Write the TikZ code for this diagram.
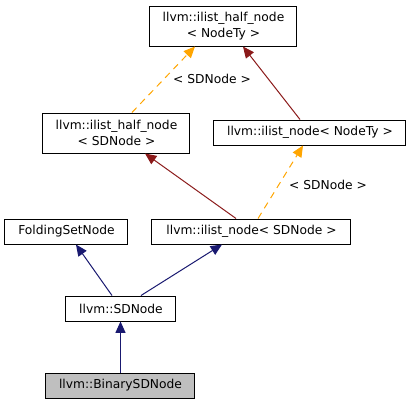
\documentclass[tikz,border=0pt]{standalone}
\usepackage{fontspec}
\setmainfont{DejaVu Sans}
\usetikzlibrary{arrows.meta}
\definecolor{navyedge}{RGB}{25,25,112}
\definecolor{rededge}{RGB}{139,26,26}
\definecolor{tmpledge}{RGB}{255,165,0}

\begin{document}
\begin{tikzpicture}[x=0.75pt, y=-0.75pt, >={Triangle[length=8.5pt,width=7.5pt]},
        font=\fontsize{9.2}{12}\selectfont,
        cls/.style={draw, line width=0.75pt, inner sep=0pt, align=center},
        pub/.style={->, navyedge, line width=0.75pt},
        inh/.style={->, rededge, line width=0.75pt},
        tpl/.style={->, tmpledge, line width=0.75pt, dash pattern=on 5pt off 4pt}]
        \useasboundingbox (0,0) rectangle (412,405);
        
        % Classes
        \node[cls, minimum width=110.25pt, minimum height=30pt] (halfty) at (223.5,26) {llvm::ilist\_half\_node\\< NodeTy >};
        \node[cls, minimum width=110.25pt, minimum height=30pt] (halfsd) at (116.5,133) {llvm::ilist\_half\_node\\< SDNode >};
        \node[cls, minimum width=144pt, minimum height=18.75pt] (nodety) at (310,132.5) {llvm::ilist\_node< NodeTy >};
        \node[cls, minimum width=92.25pt, minimum height=18.75pt] (folding) at (66.5,231.5) {FoldingSetNode};
        \node[cls, minimum width=149.25pt, minimum height=18.75pt] (nodesd) at (251.5,231.5) {llvm::ilist\_node< SDNode >};
        \node[cls, minimum width=82.5pt, minimum height=18.75pt] (sdnode) at (121,308.5) {llvm::SDNode};
        \node[cls, fill=black!25, minimum width=111.75pt, minimum height=18.75pt] (binary) at (120.5,385.5) {llvm::BinarySDNode};
        
        % Template instances
        \draw[tpl] ([xshift=11.6pt]halfsd.north) -- ([xshift=-21.4pt]halfty.south);
        \draw[tpl] ([xshift=4.9pt]nodesd.north) -- ([xshift=-5.25pt]nodety.south);
        \node (lblhalf) at (212,79) {< SDNode >};
        \node (lblnode) at (328,185) {< SDNode >};
        
        % Inheritance
        \draw[inh] ([xshift=-7.5pt]nodety.north) -- ([xshift=14.6pt]halfty.south);
        \draw[inh] ([xshift=-11.6pt]nodesd.north) -- ([xshift=21.4pt]halfsd.south);
        \draw[pub] ([xshift=-6.75pt]sdnode.north) -- ([xshift=7.1pt]folding.south);
        \draw[pub] ([xshift=15pt]sdnode.north) -- ([xshift=-22.1pt]nodesd.south);
        \draw[pub] (binary.north) -- (binary.north |- sdnode.south);
\end{tikzpicture}
\end{document}
